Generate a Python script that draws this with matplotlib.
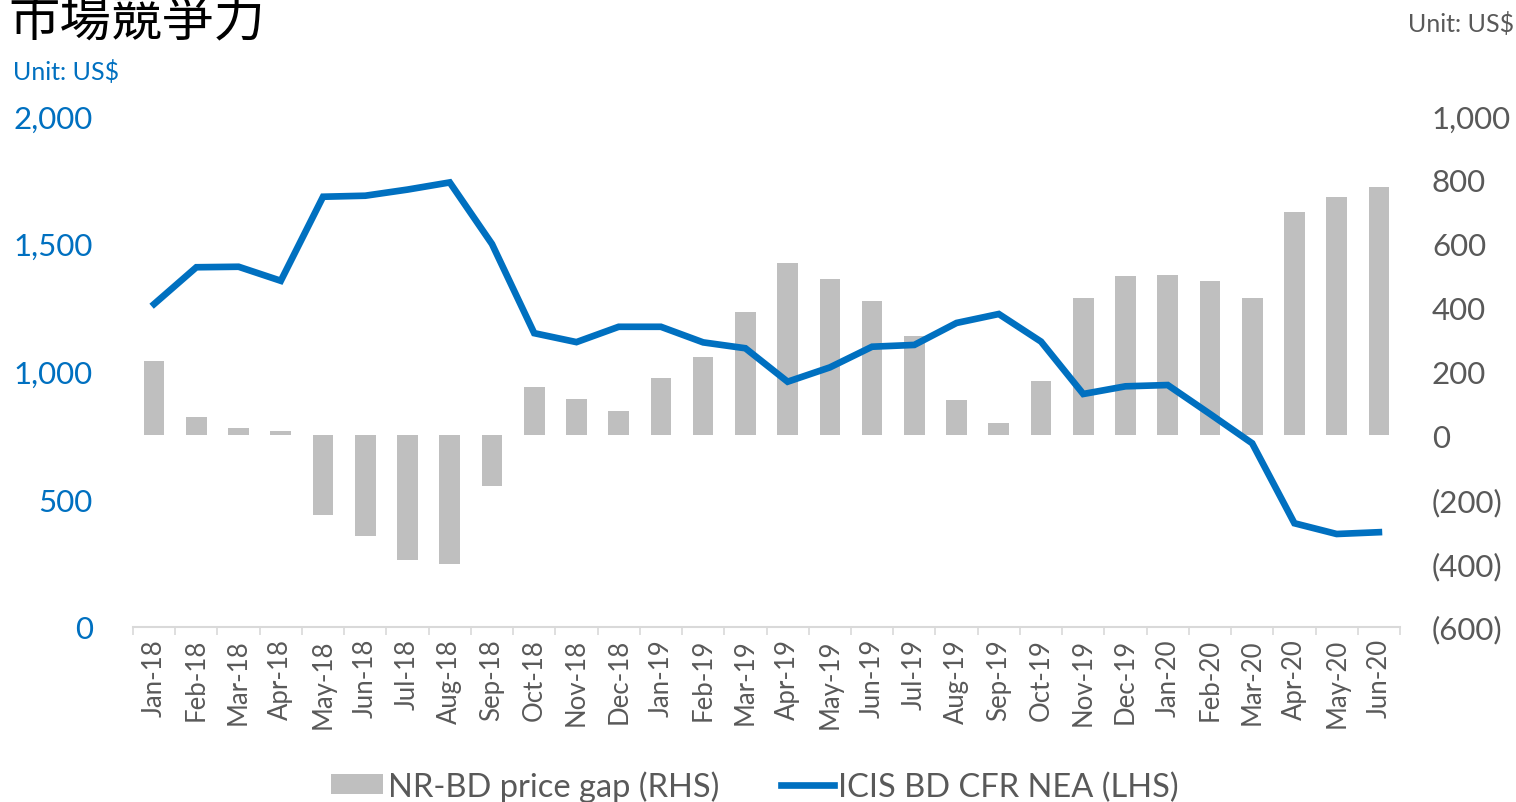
import matplotlib
matplotlib.use("Agg")
import matplotlib.pyplot as plt
import numpy as np
from matplotlib.patches import Patch
from matplotlib.lines import Line2D

months = ["Jan-18", "Feb-18", "Mar-18", "Apr-18", "May-18", "Jun-18", "Jul-18", "Aug-18",
          "Sep-18", "Oct-18", "Nov-18", "Dec-18", "Jan-19", "Feb-19", "Mar-19", "Apr-19",
          "May-19", "Jun-19", "Jul-19", "Aug-19", "Sep-19", "Oct-19", "Nov-19", "Dec-19",
          "Jan-20", "Feb-20", "Mar-20", "Apr-20", "May-20", "Jun-20"]

price_gap = [234, 57, 24, 15, -249, -315, -389, -403, -160, 152, 114, 75, 180, 245, 387,
             540, 490, 422, 310, 111, 39, 170, 430, 499, 502, 483, 429, 700, 745, 779]

icis_bd = [1264, 1408, 1410, 1355, 1684, 1688, 1712, 1740, 1499, 1150, 1115, 1175, 1175,
           1114, 1091, 960, 1016, 1097, 1104, 1190, 1225, 1117, 912, 942, 947, 834, 719,
           406, 364, 371]

left_ticks = [0, 500, 1000, 1500, 2000]
left_labels = ["0", "500", "1,000", "1,500", "2,000"]
right_ticks = [-600, -400, -200, 0, 200, 400, 600, 800, 1000]
right_labels = ["(600)", "(400)", "(200)", "0", "200", "400", "600", "800", "1,000"]

title = "市場競爭力"
unit_text = "Unit: US$"
bar_label = "NR-BD price gap (RHS)"
line_label = "ICIS BD CFR NEA (LHS)"

BLUE = "#0070C0"
GRAY_BAR = "#BFBFBF"
TXT_GRAY = "#595959"
FONT = ["Lato", "DejaVu Sans"]

plt.rcParams["font.family"] = FONT

W, H = 1516, 803
fig = plt.figure(figsize=(W / 100, H / 100), dpi=100)
left, right, bottom, top = 133, 1400, 628, 117
ax = fig.add_axes([left / W, 1 - bottom / H, (right - left) / W, (bottom - top) / H])
ax2 = ax.twinx()

x = np.arange(len(months))

# bars on right axis
ax2.bar(x, price_gap, width=0.49, color=GRAY_BAR, zorder=1)
ax2.set_ylim(-600, 1000)
ax2.set_yticks(right_ticks)
ax2.set_yticklabels(right_labels, fontsize=22.5, color=TXT_GRAY)
ax2.tick_params(axis="y", length=0, pad=23)

# line on left axis (draw above bars)
ax.set_zorder(ax2.get_zorder() + 1)
ax.patch.set_visible(False)
ax.plot(x, icis_bd, color=BLUE, linewidth=4.8, solid_joinstyle="miter", zorder=3)
ax.set_ylim(0, 2000)
ax.set_yticks(left_ticks)
ax.set_yticklabels(left_labels, fontsize=22.5, color=BLUE)
ax.tick_params(axis="y", length=0, pad=29)

ax.set_xlim(-0.5, len(months) - 0.5)
ax.set_xticks(x)
ax.set_xticklabels(months, rotation=90, fontsize=18.5, color=TXT_GRAY)
ax.tick_params(axis="x", length=0, pad=8)
ax.set_xticks(np.arange(-0.5, len(months), 1.0), minor=True)
ax.tick_params(axis="x", which="minor", length=6, color="#D9D9D9", width=1.2)

for a in (ax, ax2):
    for s in ("top", "left", "right", "bottom"):
        a.spines[s].set_visible(False)
ax.spines["bottom"].set_visible(True)
ax.spines["bottom"].set_color("#D9D9D9")
ax.spines["bottom"].set_linewidth(1.5)

# texts
fig.text(8 / W, 1 - 22 / H, title, fontsize=37, color="black", ha="left", va="center",
         family=["Noto Sans CJK TC", "DejaVu Sans"])
fig.text(13 / W, 1 - 72 / H, unit_text, fontsize=18, color=BLUE, ha="left", va="center")
fig.text(1514 / W, 1 - 24 / H, unit_text, fontsize=18, color=TXT_GRAY, ha="right", va="center")

handles = [Patch(facecolor=GRAY_BAR, edgecolor="none"),
           Line2D([0], [0], color=BLUE, linewidth=4.8)]
leg = fig.legend(handles, [bar_label, line_label], loc="center",
                 bbox_to_anchor=(755 / W, 1 - 787 / H), ncol=2, frameon=False,
                 fontsize=23.5, labelcolor=TXT_GRAY, handlelength=1.6, handleheight=0.55,
                 handletextpad=0.15, columnspacing=1.9)

fig.savefig("out.png", dpi=100)
